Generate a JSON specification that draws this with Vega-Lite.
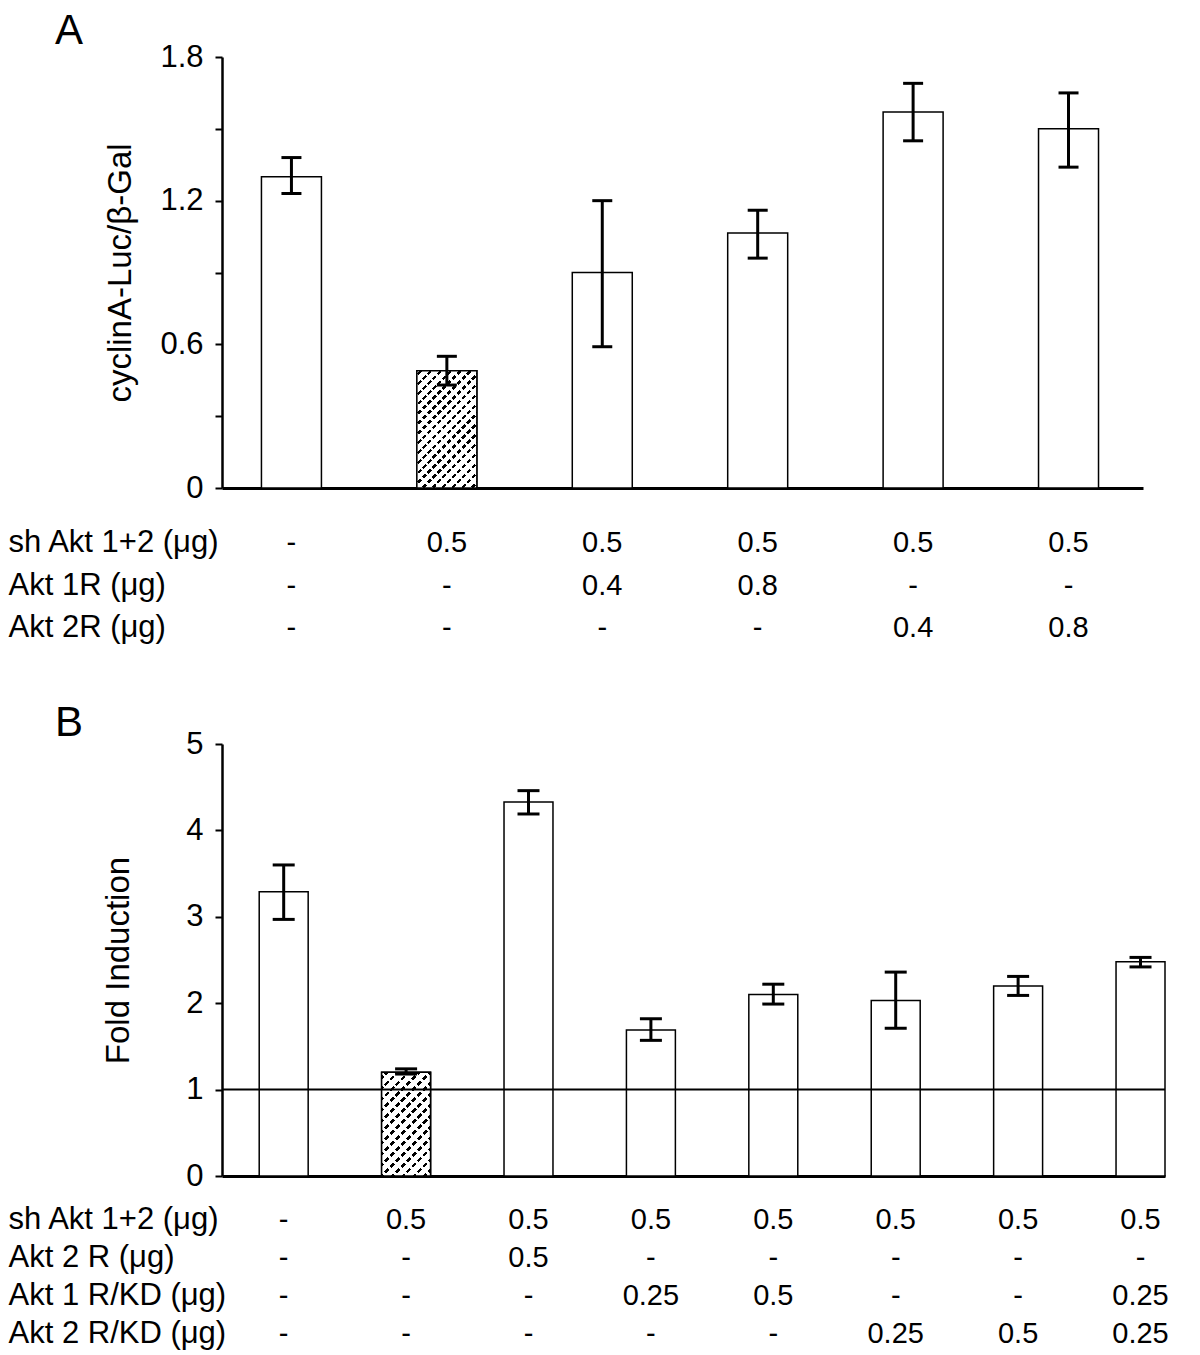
{
  "$schema": "https://vega.github.io/schema/vega-lite/v6.json",
  "background": "white",
  "padding": {"left": 8, "top": 10, "right": 0, "bottom": 0},
  "spacing": 0,
  "resolve": {"scale": {"x": "independent", "y": "independent"}},
  "config": {
    "font": "Liberation Sans",
    "view": {"stroke": null},
    "axis": {"minExtent": 0, "grid": false, "domainColor": "black", "tickColor": "black", "labelColor": "black", "titleColor": "black", "titleFontWeight": "normal"},
    "title": {"fontSize": 42, "fontWeight": "normal", "anchor": "start", "frame": "group", "color": "black"}
  },
  "datasets": {
    "barsA": [
      {"lane": "1", "mean": 1.30, "lo": 1.23, "hi": 1.38},
      {"lane": "2", "mean": 0.49, "lo": 0.43, "hi": 0.55},
      {"lane": "3", "mean": 0.90, "lo": 0.59, "hi": 1.20},
      {"lane": "4", "mean": 1.065, "lo": 0.96, "hi": 1.16},
      {"lane": "5", "mean": 1.57, "lo": 1.45, "hi": 1.69},
      {"lane": "6", "mean": 1.50, "lo": 1.34, "hi": 1.65}
    ],
    "tableA": [
      {"lane": "1", "row": "sh Akt 1+2 (μg)", "val": "-"},
      {"lane": "2", "row": "sh Akt 1+2 (μg)", "val": "0.5"},
      {"lane": "3", "row": "sh Akt 1+2 (μg)", "val": "0.5"},
      {"lane": "4", "row": "sh Akt 1+2 (μg)", "val": "0.5"},
      {"lane": "5", "row": "sh Akt 1+2 (μg)", "val": "0.5"},
      {"lane": "6", "row": "sh Akt 1+2 (μg)", "val": "0.5"},
      {"lane": "1", "row": "Akt 1R (μg)", "val": "-"},
      {"lane": "2", "row": "Akt 1R (μg)", "val": "-"},
      {"lane": "3", "row": "Akt 1R (μg)", "val": "0.4"},
      {"lane": "4", "row": "Akt 1R (μg)", "val": "0.8"},
      {"lane": "5", "row": "Akt 1R (μg)", "val": "-"},
      {"lane": "6", "row": "Akt 1R (μg)", "val": "-"},
      {"lane": "1", "row": "Akt 2R (μg)", "val": "-"},
      {"lane": "2", "row": "Akt 2R (μg)", "val": "-"},
      {"lane": "3", "row": "Akt 2R (μg)", "val": "-"},
      {"lane": "4", "row": "Akt 2R (μg)", "val": "-"},
      {"lane": "5", "row": "Akt 2R (μg)", "val": "0.4"},
      {"lane": "6", "row": "Akt 2R (μg)", "val": "0.8"}
    ],
    "barsB": [
      {"lane": "1", "mean": 3.29, "lo": 2.97, "hi": 3.60},
      {"lane": "2", "mean": 1.20, "lo": 1.18, "hi": 1.24},
      {"lane": "3", "mean": 4.33, "lo": 4.19, "hi": 4.46},
      {"lane": "4", "mean": 1.69, "lo": 1.57, "hi": 1.82},
      {"lane": "5", "mean": 2.10, "lo": 1.99, "hi": 2.22},
      {"lane": "6", "mean": 2.03, "lo": 1.71, "hi": 2.36},
      {"lane": "7", "mean": 2.20, "lo": 2.09, "hi": 2.31},
      {"lane": "8", "mean": 2.48, "lo": 2.42, "hi": 2.53}
    ],
    "refB": [{"level": 1}],
    "tableB": [
      {"lane": "1", "row": "sh Akt 1+2 (μg)", "val": "-"},
      {"lane": "2", "row": "sh Akt 1+2 (μg)", "val": "0.5"},
      {"lane": "3", "row": "sh Akt 1+2 (μg)", "val": "0.5"},
      {"lane": "4", "row": "sh Akt 1+2 (μg)", "val": "0.5"},
      {"lane": "5", "row": "sh Akt 1+2 (μg)", "val": "0.5"},
      {"lane": "6", "row": "sh Akt 1+2 (μg)", "val": "0.5"},
      {"lane": "7", "row": "sh Akt 1+2 (μg)", "val": "0.5"},
      {"lane": "8", "row": "sh Akt 1+2 (μg)", "val": "0.5"},
      {"lane": "1", "row": "Akt 2 R (μg)", "val": "-"},
      {"lane": "2", "row": "Akt 2 R (μg)", "val": "-"},
      {"lane": "3", "row": "Akt 2 R (μg)", "val": "0.5"},
      {"lane": "4", "row": "Akt 2 R (μg)", "val": "-"},
      {"lane": "5", "row": "Akt 2 R (μg)", "val": "-"},
      {"lane": "6", "row": "Akt 2 R (μg)", "val": "-"},
      {"lane": "7", "row": "Akt 2 R (μg)", "val": "-"},
      {"lane": "8", "row": "Akt 2 R (μg)", "val": "-"},
      {"lane": "1", "row": "Akt 1 R/KD (μg)", "val": "-"},
      {"lane": "2", "row": "Akt 1 R/KD (μg)", "val": "-"},
      {"lane": "3", "row": "Akt 1 R/KD (μg)", "val": "-"},
      {"lane": "4", "row": "Akt 1 R/KD (μg)", "val": "0.25"},
      {"lane": "5", "row": "Akt 1 R/KD (μg)", "val": "0.5"},
      {"lane": "6", "row": "Akt 1 R/KD (μg)", "val": "-"},
      {"lane": "7", "row": "Akt 1 R/KD (μg)", "val": "-"},
      {"lane": "8", "row": "Akt 1 R/KD (μg)", "val": "0.25"},
      {"lane": "1", "row": "Akt 2 R/KD (μg)", "val": "-"},
      {"lane": "2", "row": "Akt 2 R/KD (μg)", "val": "-"},
      {"lane": "3", "row": "Akt 2 R/KD (μg)", "val": "-"},
      {"lane": "4", "row": "Akt 2 R/KD (μg)", "val": "-"},
      {"lane": "5", "row": "Akt 2 R/KD (μg)", "val": "-"},
      {"lane": "6", "row": "Akt 2 R/KD (μg)", "val": "0.25"},
      {"lane": "7", "row": "Akt 2 R/KD (μg)", "val": "0.5"},
      {"lane": "8", "row": "Akt 2 R/KD (μg)", "val": "0.25"}
    ]
  },
  "vconcat": [
    {
      "title": {"text": "A", "dx": -167, "offset": -12},
      "width": 921,
      "height": 431,
      "data": {"name": "barsA"},
      "layer": [
        {
          "mark": {"type": "bar", "fill": "white", "stroke": "black", "strokeWidth": 1.5},
          "encoding": {
            "x": {"field": "lane", "type": "nominal", "scale": {"domain": ["1","2","3","4","5","6"], "paddingInner": 0.614, "paddingOuter": 0.27, "align": 0.47}, "axis": {"labels": false, "ticks": false, "title": null, "domainWidth": 3}},
            "y": {"field": "mean", "type": "quantitative", "title": "cyclinA-Luc/β-Gal", "scale": {"domain": [0, 1.8], "nice": false, "zero": true},
            "axis": {"values": [0, 0.3, 0.6, 0.9, 1.2, 1.5, 1.8], "format": ".1~f", "labelExpr": "(round(datum.value*10) % 6 == 0) ? datum.label : ''", "labelFontSize": 31, "titleFontSize": 33, "tickSize": 7, "tickWidth": 2, "domainWidth": 2.5, "labelPadding": 12, "titlePadding": 22}}}
        },
        {
          "transform": [{"filter": "datum.lane == '2'"}],
          "mark": {"type": "bar", "strokeWidth": 0,
            "fill": {"gradient": "linear", "x1": 0, "y1": 0, "x2": 0.6128, "y2": 1.198, "stops": [
              {"offset": 0, "color": "white"},
              {"offset": 0.0167, "color": "white"}, {"offset": 0.0167, "color": "black"}, {"offset": 0.0361, "color": "black"}, {"offset": 0.0361, "color": "white"},
              {"offset": 0.0722, "color": "white"}, {"offset": 0.0722, "color": "black"}, {"offset": 0.0917, "color": "black"}, {"offset": 0.0917, "color": "white"},
              {"offset": 0.1278, "color": "white"}, {"offset": 0.1278, "color": "black"}, {"offset": 0.1472, "color": "black"}, {"offset": 0.1472, "color": "white"},
              {"offset": 0.1833, "color": "white"}, {"offset": 0.1833, "color": "black"}, {"offset": 0.2028, "color": "black"}, {"offset": 0.2028, "color": "white"},
              {"offset": 0.2389, "color": "white"}, {"offset": 0.2389, "color": "black"}, {"offset": 0.2583, "color": "black"}, {"offset": 0.2583, "color": "white"},
              {"offset": 0.2944, "color": "white"}, {"offset": 0.2944, "color": "black"}, {"offset": 0.3139, "color": "black"}, {"offset": 0.3139, "color": "white"},
              {"offset": 0.35, "color": "white"}, {"offset": 0.35, "color": "black"}, {"offset": 0.3694, "color": "black"}, {"offset": 0.3694, "color": "white"},
              {"offset": 0.4056, "color": "white"}, {"offset": 0.4056, "color": "black"}, {"offset": 0.425, "color": "black"}, {"offset": 0.425, "color": "white"},
              {"offset": 0.4611, "color": "white"}, {"offset": 0.4611, "color": "black"}, {"offset": 0.4806, "color": "black"}, {"offset": 0.4806, "color": "white"},
              {"offset": 0.5167, "color": "white"}, {"offset": 0.5167, "color": "black"}, {"offset": 0.5361, "color": "black"}, {"offset": 0.5361, "color": "white"},
              {"offset": 0.5722, "color": "white"}, {"offset": 0.5722, "color": "black"}, {"offset": 0.5917, "color": "black"}, {"offset": 0.5917, "color": "white"},
              {"offset": 0.6278, "color": "white"}, {"offset": 0.6278, "color": "black"}, {"offset": 0.6472, "color": "black"}, {"offset": 0.6472, "color": "white"},
              {"offset": 0.6833, "color": "white"}, {"offset": 0.6833, "color": "black"}, {"offset": 0.7028, "color": "black"}, {"offset": 0.7028, "color": "white"},
              {"offset": 0.7389, "color": "white"}, {"offset": 0.7389, "color": "black"}, {"offset": 0.7583, "color": "black"}, {"offset": 0.7583, "color": "white"},
              {"offset": 0.7944, "color": "white"}, {"offset": 0.7944, "color": "black"}, {"offset": 0.8139, "color": "black"}, {"offset": 0.8139, "color": "white"},
              {"offset": 0.85, "color": "white"}, {"offset": 0.85, "color": "black"}, {"offset": 0.8694, "color": "black"}, {"offset": 0.8694, "color": "white"},
              {"offset": 0.9056, "color": "white"}, {"offset": 0.9056, "color": "black"}, {"offset": 0.925, "color": "black"}, {"offset": 0.925, "color": "white"},
              {"offset": 0.9611, "color": "white"}, {"offset": 0.9611, "color": "black"}, {"offset": 0.9806, "color": "black"}, {"offset": 0.9806, "color": "white"},
              {"offset": 1, "color": "white"}
            ]}},
          "encoding": {
            "x": {"field": "lane", "type": "nominal"},
            "y": {"field": "mean", "type": "quantitative", "title": "cyclinA-Luc/β-Gal"}}
        },
        {
          "transform": [{"filter": "datum.lane == '2'"}],
          "mark": {"type": "bar", "stroke": "black", "strokeWidth": 1.5,
            "fill": {"gradient": "linear", "x1": 0, "y1": 1, "x2": 0.6128, "y2": -0.198, "stops": [
              {"offset": 0, "color": "rgba(255,255,255,0)"},
              {"offset": 0.0167, "color": "rgba(255,255,255,0)"}, {"offset": 0.0167, "color": "white"}, {"offset": 0.0361, "color": "white"}, {"offset": 0.0361, "color": "rgba(255,255,255,0)"},
              {"offset": 0.0722, "color": "rgba(255,255,255,0)"}, {"offset": 0.0722, "color": "white"}, {"offset": 0.0917, "color": "white"}, {"offset": 0.0917, "color": "rgba(255,255,255,0)"},
              {"offset": 0.1278, "color": "rgba(255,255,255,0)"}, {"offset": 0.1278, "color": "white"}, {"offset": 0.1472, "color": "white"}, {"offset": 0.1472, "color": "rgba(255,255,255,0)"},
              {"offset": 0.1833, "color": "rgba(255,255,255,0)"}, {"offset": 0.1833, "color": "white"}, {"offset": 0.2028, "color": "white"}, {"offset": 0.2028, "color": "rgba(255,255,255,0)"},
              {"offset": 0.2389, "color": "rgba(255,255,255,0)"}, {"offset": 0.2389, "color": "white"}, {"offset": 0.2583, "color": "white"}, {"offset": 0.2583, "color": "rgba(255,255,255,0)"},
              {"offset": 0.2944, "color": "rgba(255,255,255,0)"}, {"offset": 0.2944, "color": "white"}, {"offset": 0.3139, "color": "white"}, {"offset": 0.3139, "color": "rgba(255,255,255,0)"},
              {"offset": 0.35, "color": "rgba(255,255,255,0)"}, {"offset": 0.35, "color": "white"}, {"offset": 0.3694, "color": "white"}, {"offset": 0.3694, "color": "rgba(255,255,255,0)"},
              {"offset": 0.4056, "color": "rgba(255,255,255,0)"}, {"offset": 0.4056, "color": "white"}, {"offset": 0.425, "color": "white"}, {"offset": 0.425, "color": "rgba(255,255,255,0)"},
              {"offset": 0.4611, "color": "rgba(255,255,255,0)"}, {"offset": 0.4611, "color": "white"}, {"offset": 0.4806, "color": "white"}, {"offset": 0.4806, "color": "rgba(255,255,255,0)"},
              {"offset": 0.5167, "color": "rgba(255,255,255,0)"}, {"offset": 0.5167, "color": "white"}, {"offset": 0.5361, "color": "white"}, {"offset": 0.5361, "color": "rgba(255,255,255,0)"},
              {"offset": 0.5722, "color": "rgba(255,255,255,0)"}, {"offset": 0.5722, "color": "white"}, {"offset": 0.5917, "color": "white"}, {"offset": 0.5917, "color": "rgba(255,255,255,0)"},
              {"offset": 0.6278, "color": "rgba(255,255,255,0)"}, {"offset": 0.6278, "color": "white"}, {"offset": 0.6472, "color": "white"}, {"offset": 0.6472, "color": "rgba(255,255,255,0)"},
              {"offset": 0.6833, "color": "rgba(255,255,255,0)"}, {"offset": 0.6833, "color": "white"}, {"offset": 0.7028, "color": "white"}, {"offset": 0.7028, "color": "rgba(255,255,255,0)"},
              {"offset": 0.7389, "color": "rgba(255,255,255,0)"}, {"offset": 0.7389, "color": "white"}, {"offset": 0.7583, "color": "white"}, {"offset": 0.7583, "color": "rgba(255,255,255,0)"},
              {"offset": 0.7944, "color": "rgba(255,255,255,0)"}, {"offset": 0.7944, "color": "white"}, {"offset": 0.8139, "color": "white"}, {"offset": 0.8139, "color": "rgba(255,255,255,0)"},
              {"offset": 0.85, "color": "rgba(255,255,255,0)"}, {"offset": 0.85, "color": "white"}, {"offset": 0.8694, "color": "white"}, {"offset": 0.8694, "color": "rgba(255,255,255,0)"},
              {"offset": 0.9056, "color": "rgba(255,255,255,0)"}, {"offset": 0.9056, "color": "white"}, {"offset": 0.925, "color": "white"}, {"offset": 0.925, "color": "rgba(255,255,255,0)"},
              {"offset": 0.9611, "color": "rgba(255,255,255,0)"}, {"offset": 0.9611, "color": "white"}, {"offset": 0.9806, "color": "white"}, {"offset": 0.9806, "color": "rgba(255,255,255,0)"},
              {"offset": 1, "color": "rgba(255,255,255,0)"}
            ]}},
          "encoding": {
            "x": {"field": "lane", "type": "nominal"},
            "y": {"field": "mean", "type": "quantitative", "title": "cyclinA-Luc/β-Gal"}}
        },
        {
          "mark": {"type": "rule", "strokeWidth": 3, "color": "black"},
          "encoding": {"x": {"field": "lane", "type": "nominal"}, "y": {"field": "lo", "type": "quantitative", "title": "cyclinA-Luc/β-Gal"}, "y2": {"field": "hi"}}
        },
        {
          "mark": {"type": "tick", "thickness": 3, "size": 20, "color": "black", "opacity": 1},
          "encoding": {"x": {"field": "lane", "type": "nominal"}, "y": {"field": "lo", "type": "quantitative", "title": "cyclinA-Luc/β-Gal"}}
        },
        {
          "mark": {"type": "tick", "thickness": 3, "size": 20, "color": "black", "opacity": 1},
          "encoding": {"x": {"field": "lane", "type": "nominal"}, "y": {"field": "hi", "type": "quantitative", "title": "cyclinA-Luc/β-Gal"}}
        }
      ]
    },
    {
      "width": 921,
      "height": 199,
      "data": {"name": "tableA"},
      "mark": {"type": "text", "fontSize": 29, "color": "black"},
      "encoding": {
        "x": {"field": "lane", "type": "nominal", "scale": {"type": "band", "domain": ["1","2","3","4","5","6"], "paddingInner": 0.614, "paddingOuter": 0.27, "align": 0.47}, "axis": null},
        "y": {"field": "row", "type": "nominal", "scale": {"type": "band", "domain": ["sh Akt 1+2 (μg)", "Akt 1R (μg)", "Akt 2R (μg)"], "paddingInner": 0, "paddingOuter": 0.841, "align": 0.269},
          "axis": {"title": null, "domain": false, "ticks": false, "tickSize": 0, "labelAlign": "left", "labelPadding": 214, "labelFontSize": 31, "labelLimit": 400}},
        "text": {"field": "val"}
      }
    },
    {
      "title": {"text": "B", "dx": -167, "offset": -17},
      "width": 943,
      "height": 432,
      "layer": [
        {
          "data": {"name": "barsB"},
          "mark": {"type": "bar", "fill": "white", "stroke": "black", "strokeWidth": 1.5},
          "encoding": {
            "x": {"field": "lane", "type": "nominal", "scale": {"domain": ["1","2","3","4","5","6","7","8"], "paddingInner": 0.6, "paddingOuter": 0.152, "align": 1}, "axis": {"labels": false, "ticks": false, "title": null, "domainWidth": 3}},
            "y": {"field": "mean", "type": "quantitative", "title": "Fold Induction", "scale": {"domain": [0, 5], "nice": false},
            "axis": {"values": [0, 1, 2, 3, 4, 5], "format": "d", "labelFontSize": 31, "titleFontSize": 33, "tickSize": 7, "tickWidth": 2, "domainWidth": 2.5, "labelPadding": 12, "titlePadding": 50}}}
        },
        {
          "data": {"name": "barsB"},
          "transform": [{"filter": "datum.lane == '2'"}],
          "mark": {"type": "bar", "strokeWidth": 0,
            "fill": {"gradient": "linear", "x1": 0, "y1": 0, "x2": 0.5688, "y2": 1.2037, "stops": [
              {"offset": 0, "color": "white"},
              {"offset": 0.0214, "color": "white"}, {"offset": 0.0214, "color": "black"}, {"offset": 0.0464, "color": "black"}, {"offset": 0.0464, "color": "white"},
              {"offset": 0.0929, "color": "white"}, {"offset": 0.0929, "color": "black"}, {"offset": 0.1179, "color": "black"}, {"offset": 0.1179, "color": "white"},
              {"offset": 0.1643, "color": "white"}, {"offset": 0.1643, "color": "black"}, {"offset": 0.1893, "color": "black"}, {"offset": 0.1893, "color": "white"},
              {"offset": 0.2357, "color": "white"}, {"offset": 0.2357, "color": "black"}, {"offset": 0.2607, "color": "black"}, {"offset": 0.2607, "color": "white"},
              {"offset": 0.3071, "color": "white"}, {"offset": 0.3071, "color": "black"}, {"offset": 0.3321, "color": "black"}, {"offset": 0.3321, "color": "white"},
              {"offset": 0.3786, "color": "white"}, {"offset": 0.3786, "color": "black"}, {"offset": 0.4036, "color": "black"}, {"offset": 0.4036, "color": "white"},
              {"offset": 0.45, "color": "white"}, {"offset": 0.45, "color": "black"}, {"offset": 0.475, "color": "black"}, {"offset": 0.475, "color": "white"},
              {"offset": 0.5214, "color": "white"}, {"offset": 0.5214, "color": "black"}, {"offset": 0.5464, "color": "black"}, {"offset": 0.5464, "color": "white"},
              {"offset": 0.5929, "color": "white"}, {"offset": 0.5929, "color": "black"}, {"offset": 0.6179, "color": "black"}, {"offset": 0.6179, "color": "white"},
              {"offset": 0.6643, "color": "white"}, {"offset": 0.6643, "color": "black"}, {"offset": 0.6893, "color": "black"}, {"offset": 0.6893, "color": "white"},
              {"offset": 0.7357, "color": "white"}, {"offset": 0.7357, "color": "black"}, {"offset": 0.7607, "color": "black"}, {"offset": 0.7607, "color": "white"},
              {"offset": 0.8071, "color": "white"}, {"offset": 0.8071, "color": "black"}, {"offset": 0.8321, "color": "black"}, {"offset": 0.8321, "color": "white"},
              {"offset": 0.8786, "color": "white"}, {"offset": 0.8786, "color": "black"}, {"offset": 0.9036, "color": "black"}, {"offset": 0.9036, "color": "white"},
              {"offset": 0.95, "color": "white"}, {"offset": 0.95, "color": "black"}, {"offset": 0.975, "color": "black"}, {"offset": 0.975, "color": "white"},
              {"offset": 1, "color": "white"}
            ]}},
          "encoding": {"x": {"field": "lane", "type": "nominal"}, "y": {"field": "mean", "type": "quantitative", "title": "Fold Induction"}}
        },
        {
          "data": {"name": "barsB"},
          "transform": [{"filter": "datum.lane == '2'"}],
          "mark": {"type": "bar", "stroke": "black", "strokeWidth": 1.5,
            "fill": {"gradient": "linear", "x1": 0, "y1": 1, "x2": 0.5688, "y2": -0.2037, "stops": [
              {"offset": 0, "color": "rgba(255,255,255,0)"},
              {"offset": 0.0214, "color": "rgba(255,255,255,0)"}, {"offset": 0.0214, "color": "white"}, {"offset": 0.0464, "color": "white"}, {"offset": 0.0464, "color": "rgba(255,255,255,0)"},
              {"offset": 0.0929, "color": "rgba(255,255,255,0)"}, {"offset": 0.0929, "color": "white"}, {"offset": 0.1179, "color": "white"}, {"offset": 0.1179, "color": "rgba(255,255,255,0)"},
              {"offset": 0.1643, "color": "rgba(255,255,255,0)"}, {"offset": 0.1643, "color": "white"}, {"offset": 0.1893, "color": "white"}, {"offset": 0.1893, "color": "rgba(255,255,255,0)"},
              {"offset": 0.2357, "color": "rgba(255,255,255,0)"}, {"offset": 0.2357, "color": "white"}, {"offset": 0.2607, "color": "white"}, {"offset": 0.2607, "color": "rgba(255,255,255,0)"},
              {"offset": 0.3071, "color": "rgba(255,255,255,0)"}, {"offset": 0.3071, "color": "white"}, {"offset": 0.3321, "color": "white"}, {"offset": 0.3321, "color": "rgba(255,255,255,0)"},
              {"offset": 0.3786, "color": "rgba(255,255,255,0)"}, {"offset": 0.3786, "color": "white"}, {"offset": 0.4036, "color": "white"}, {"offset": 0.4036, "color": "rgba(255,255,255,0)"},
              {"offset": 0.45, "color": "rgba(255,255,255,0)"}, {"offset": 0.45, "color": "white"}, {"offset": 0.475, "color": "white"}, {"offset": 0.475, "color": "rgba(255,255,255,0)"},
              {"offset": 0.5214, "color": "rgba(255,255,255,0)"}, {"offset": 0.5214, "color": "white"}, {"offset": 0.5464, "color": "white"}, {"offset": 0.5464, "color": "rgba(255,255,255,0)"},
              {"offset": 0.5929, "color": "rgba(255,255,255,0)"}, {"offset": 0.5929, "color": "white"}, {"offset": 0.6179, "color": "white"}, {"offset": 0.6179, "color": "rgba(255,255,255,0)"},
              {"offset": 0.6643, "color": "rgba(255,255,255,0)"}, {"offset": 0.6643, "color": "white"}, {"offset": 0.6893, "color": "white"}, {"offset": 0.6893, "color": "rgba(255,255,255,0)"},
              {"offset": 0.7357, "color": "rgba(255,255,255,0)"}, {"offset": 0.7357, "color": "white"}, {"offset": 0.7607, "color": "white"}, {"offset": 0.7607, "color": "rgba(255,255,255,0)"},
              {"offset": 0.8071, "color": "rgba(255,255,255,0)"}, {"offset": 0.8071, "color": "white"}, {"offset": 0.8321, "color": "white"}, {"offset": 0.8321, "color": "rgba(255,255,255,0)"},
              {"offset": 0.8786, "color": "rgba(255,255,255,0)"}, {"offset": 0.8786, "color": "white"}, {"offset": 0.9036, "color": "white"}, {"offset": 0.9036, "color": "rgba(255,255,255,0)"},
              {"offset": 0.95, "color": "rgba(255,255,255,0)"}, {"offset": 0.95, "color": "white"}, {"offset": 0.975, "color": "white"}, {"offset": 0.975, "color": "rgba(255,255,255,0)"},
              {"offset": 1, "color": "rgba(255,255,255,0)"}
            ]}},
          "encoding": {"x": {"field": "lane", "type": "nominal"}, "y": {"field": "mean", "type": "quantitative", "title": "Fold Induction"}}
        },
        {
          "data": {"name": "refB"},
          "mark": {"type": "rule", "strokeWidth": 2, "color": "black"},
          "encoding": {"y": {"field": "level", "type": "quantitative", "title": "Fold Induction"}}
        },
        {
          "data": {"name": "barsB"},
          "mark": {"type": "rule", "strokeWidth": 3, "color": "black"},
          "encoding": {"x": {"field": "lane", "type": "nominal"}, "y": {"field": "lo", "type": "quantitative", "title": "Fold Induction"}, "y2": {"field": "hi"}}
        },
        {
          "data": {"name": "barsB"},
          "mark": {"type": "tick", "thickness": 3, "size": 22, "color": "black", "opacity": 1},
          "encoding": {"x": {"field": "lane", "type": "nominal"}, "y": {"field": "lo", "type": "quantitative", "title": "Fold Induction"}}
        },
        {
          "data": {"name": "barsB"},
          "mark": {"type": "tick", "thickness": 3, "size": 22, "color": "black", "opacity": 1},
          "encoding": {"x": {"field": "lane", "type": "nominal"}, "y": {"field": "hi", "type": "quantitative", "title": "Fold Induction"}}
        }
      ]
    },
    {
      "width": 943,
      "height": 161.5,
      "data": {"name": "tableB"},
      "mark": {"type": "text", "fontSize": 29, "color": "black"},
      "encoding": {
        "x": {"field": "lane", "type": "nominal", "scale": {"type": "band", "domain": ["1","2","3","4","5","6","7","8"], "paddingInner": 0.6, "paddingOuter": 0.152, "align": 1}, "axis": null},
        "y": {"field": "row", "type": "nominal", "scale": {"type": "band", "domain": ["sh Akt 1+2 (μg)", "Akt 2 R (μg)", "Akt 1 R/KD (μg)", "Akt 2 R/KD (μg)"], "paddingInner": 0, "paddingOuter": 0.125, "align": 1},
          "axis": {"title": null, "domain": false, "ticks": false, "tickSize": 0, "labelAlign": "left", "labelPadding": 214, "labelFontSize": 31, "labelLimit": 400}},
        "text": {"field": "val"}
      }
    }
  ]
}
